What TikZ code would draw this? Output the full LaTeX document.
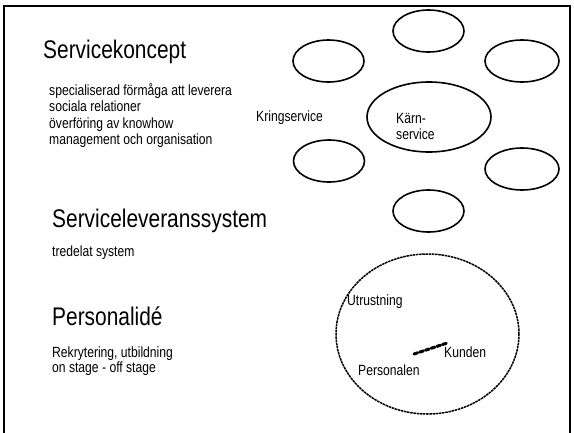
\documentclass[tikz,border=0pt]{standalone}
\usepackage{fontspec}
\setmainfont{Liberation Sans}[FakeStretch=0.82]
\usetikzlibrary{shapes.geometric}
\begin{document}
\begin{tikzpicture}[x=1pt,y=-1pt,
  head/.style={anchor=base west,inner sep=0pt,font=\fontsize{25.5}{28}\selectfont},
  body/.style={anchor=base west,inner sep=0pt,font=\fontsize{14.8}{16}\selectfont},
  oval/.style={draw,ellipse,line width=1.6pt,inner sep=0pt},
  small/.style={oval,minimum width=71pt,minimum height=42pt}]
\useasboundingbox (0,0) rectangle (574,432);
\draw[line width=2pt] (4,440) -- (4,6) -- (570,6) -- (570,440);
% left texts
\node[head] (h1) at (43,58) {Servicekoncept};
\node[body] (b1) at (49,95) {specialiserad förmåga att leverera};
\node[body] (b2) at (49,111.5) {sociala relationer};
\node[body] (b3) at (49,128) {överföring av knowhow};
\node[body] (b4) at (49,144) {management och organisation};
\node[head] (h2) at (52,227) {Serviceleveranssystem};
\node[body] (b5) at (52,256) {tredelat system};
\node[head] (h3) at (52,325) {Personalidé};
\node[body] (b6) at (52,357) {Rekrytering, utbildning};
\node[body] (b7) at (52,372) {on stage - off stage};
% ellipses
\node[small] (e1) at (428.5,31) {};
\node[small] (e2) at (328.5,61) {};
\node[small,minimum width=74pt] (e3) at (522,61) {};
\node[small] (e4) at (329,161) {};
\node[small,minimum width=74pt] (e5) at (522,169) {};
\node[small] (e6) at (428.5,211) {};
\node[oval,minimum width=124pt,minimum height=70pt] (core) at (429,117) {};
\node[body] (kring) at (256,121) {Kringservice};
\node[body] (karn1) at (396,123) {Kärn-};
\node[body] (karn2) at (396,139) {service};
% delivery system
\node[draw,ellipse,line width=1.5pt,dash pattern=on 2.5pt off 0.7pt,minimum width=183pt,minimum height=160pt,inner sep=0pt] (sys) at (427.5,334) {};
\node[body] (utr) at (347,305) {Utrustning};
\node[body] (kund) at (444,357) {Kunden};
\node[body] (pers) at (358,375) {Personalen};
\coordinate (s1) at (414,354);
\coordinate (s2) at (447,343);
\draw[line width=3pt,line cap=round,dash pattern=on 4pt off 2pt] (s1) -- (s2);
\end{tikzpicture}
\end{document}
